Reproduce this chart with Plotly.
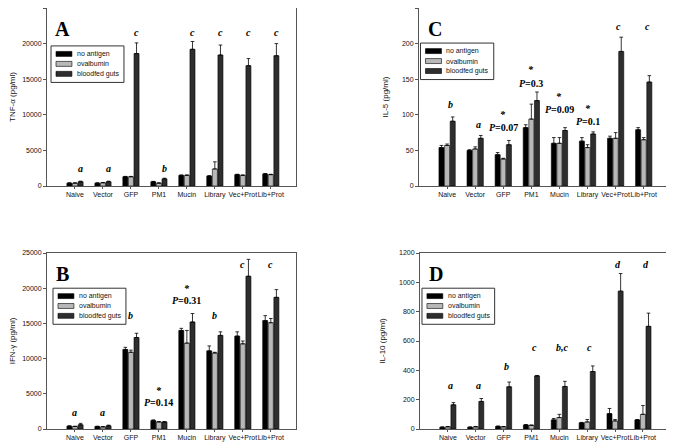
import plotly.graph_objects as go

# groups on the x axis
groups = ["Naive", "Vector", "GFP", "PM1", "Mucin", "Library", "Vec+Prot", "Lib+Prot"]
series = ["no antigen", "ovalbumin", "bloodfed guts"]

# panel A: TNF-alpha (pg/ml)
tnf_none = [400, 400, 1300, 600, 1500, 1400, 1600, 1700]
tnf_none_err = [50, 50, 50, 50, 50, 50, 50, 50]
tnf_ova = [400, 450, 1300, 400, 1500, 2400, 1500, 1600]
tnf_ova_err = [50, 50, 50, 50, 50, 1000, 50, 50]
tnf_blood = [600, 600, 18600, 1000, 19200, 18400, 16900, 18300]
tnf_blood_err = [80, 80, 1500, 100, 1100, 1400, 1000, 1700]
tnf_labels = ["a", "a", "c", "b", "c", "c", "c", "c"]
tnf_label_y = [2400, 2400, 21500, 2400, 21500, 21500, 21500, 21500]

# panel C: IL-5 (pg/ml)
il5_none = [54, 50, 44, 82, 60, 63, 67, 79]
il5_none_err = [3, 1, 3, 4, 8, 5, 3, 3]
il5_ova = [57, 52, 38, 94, 60, 54, 67, 65]
il5_ova_err = [2, 3, 1, 21, 8, 4, 8, 3]
il5_blood = [91, 67, 58, 120, 78, 73, 189, 146]
il5_blood_err = [6, 4, 6, 12, 4, 3, 20, 9]
il5_labels = ["b", "a", "*", "*", "*", "*", "c", "c"]
il5_label_y = [115, 87, 100, 163, 126, 109, 224, 224]
il5_p = ["", "", "=0.07", "=0.3", "=0.09", "=0.1", "", ""]
il5_p_y = [0, 0, 82, 144, 108, 90, 0, 0]

# panel B: IFN-gamma (pg/ml)
ifn_none = [400, 350, 11300, 1200, 14000, 11100, 13200, 15400]
ifn_none_err = [50, 50, 300, 100, 300, 700, 600, 700]
ifn_ova = [350, 300, 10900, 1000, 12200, 10800, 12100, 15100]
ifn_ova_err = [50, 50, 300, 50, 1800, 100, 400, 600]
ifn_blood = [600, 450, 13000, 1000, 15200, 13300, 21700, 18700]
ifn_blood_err = [200, 100, 600, 50, 1200, 500, 2400, 1100]
ifn_labels = ["a", "a", "b", "*", "*", "b", "c", "c"]
ifn_label_y = [2400, 2400, 16100, 5400, 20000, 16100, 23300, 23300]
ifn_p = ["", "", "", "=0.14", "=0.31", "", "", ""]
ifn_p_y = [0, 0, 0, 3700, 18200, 0, 0, 0]

# panel D: IL-10 (pg/ml)
il10_none = [12, 12, 18, 28, 62, 42, 105, 62]
il10_none_err = [2, 2, 2, 2, 10, 3, 35, 2]
il10_ova = [15, 15, 15, 25, 78, 48, 55, 100]
il10_ova_err = [2, 2, 2, 2, 22, 17, 10, 60]
il10_blood = [165, 188, 288, 362, 290, 392, 940, 700]
il10_blood_err = [15, 20, 32, 3, 35, 38, 120, 90]
il10_labels = ["a", "a", "b", "c", "b,c", "c", "d", "d"]
il10_label_y = [295, 295, 427, 557, 557, 557, 1125, 1125]

colors = ["#000000", "#b8b8b8", "#2e2e2e"]
sans = "Liberation Sans, Arial"
serif = "Liberation Serif, Times New Roman"
tick_font = dict(family=sans, size=7, color="#111")

fig = go.Figure()


# one panel of grouped bars with its own axes and a small boxed key
def add_panel(n, values, errors, ytitle, yrange, dtick, xdom, ydom, tag, labels, label_y,
              pvals=None, pvals_y=None, key_pos=(0.02, 0.79), lab_off=0.15):
    xa = "x" if n == 1 else "x%d" % n
    ya = "y" if n == 1 else "y%d" % n
    for name, vals, errs, col in zip(series, values, errors, colors):
        fig.add_trace(go.Bar(
            x=groups, y=vals, name=name, xaxis=xa, yaxis=ya, showlegend=False,
            marker=dict(color=col, line=dict(color="#000", width=0.6)),
            error_y=dict(type="data", array=errs, arrayminus=[0] * len(errs), symmetric=False,
                         color="#000", thickness=0.8, width=1.8),
        ))
    ax = dict(domain=xdom, anchor=ya, range=[-1, 7.9], showline=True, linecolor="#555",
              linewidth=1, mirror=True, ticks="outside", ticklen=2, tickcolor="#555",
              tickfont=tick_font, tickangle=0, showgrid=False, automargin=False)
    ay = dict(domain=ydom, anchor=xa, range=yrange, dtick=dtick, tickformat="d",
              showline=True, linecolor="#555", linewidth=1, mirror=True, ticks="outside",
              ticklen=3, tickcolor="#555", tickfont=tick_font, showgrid=False,
              zeroline=False, automargin=False,
              title=dict(text=ytitle, font=dict(family=sans, size=8, color="#111"),
                         standoff=12))
    k = "" if n == 1 else str(n)
    fig.layout["xaxis" + k] = ax
    fig.layout["yaxis" + k] = ay

    # boxed key in the upper left of the panel
    xd, yd = xa + " domain", ya + " domain"
    kx, ky = key_pos
    fig.add_shape(type="rect", xref=xd, yref=yd, x0=kx, x1=kx + 0.293, y0=ky - 0.205, y1=ky,
                  line=dict(color="#333", width=1), fillcolor="white")
    for j, (name, col) in enumerate(zip(series, colors)):
        ry = ky - 0.045 - j * 0.056
        fig.add_shape(type="rect", xref=xd, yref=yd, x0=kx + 0.02, x1=kx + 0.084,
                      y0=ry - 0.014, y1=ry + 0.014, fillcolor=col,
                      line=dict(color="#000", width=0.6))
        fig.add_annotation(x=kx + 0.096, y=ry, xref=xd, yref=yd, text=name, showarrow=False,
                           xanchor="left", yanchor="middle",
                           font=dict(family=sans, size=7, color="#111"))

    fig.add_annotation(x=0.064, y=0.88, xref=xd, yref=yd, text="<b>%s</b>" % tag,
                       showarrow=False, xanchor="center", yanchor="middle",
                       font=dict(family=serif, size=20, color="#000"))
    for i, (lab, ly) in enumerate(zip(labels, label_y)):
        off = 0 if lab == "*" else lab_off
        fig.add_annotation(x=i + off, y=ly, xref=xa, yref=ya, text="<b><i>%s</i></b>" % lab,
                           showarrow=False, font=dict(family=serif, size=10, color="#000"))
    if pvals:
        for i, (p, py) in enumerate(zip(pvals, pvals_y)):
            if p:
                fig.add_annotation(x=i, y=py, xref=xa, yref=ya,
                                   text="<b><i>P</i>%s</b>" % p, showarrow=False,
                                   font=dict(family=serif, size=10, color="#000"))


add_panel(1, [tnf_none, tnf_ova, tnf_blood], [tnf_none_err, tnf_ova_err, tnf_blood_err],
          "TNF-α (pg/ml)", [0, 25000], 5000, [0.0586, 0.4324], [0.5945, 1.0], "A",
          tnf_labels, tnf_label_y, key_pos=(0.016, 0.787), lab_off=0.2)
add_panel(2, [il5_none, il5_ova, il5_blood], [il5_none_err, il5_ova_err, il5_blood_err],
          "IL-5 (pg/ml)", [0, 250], 50, [0.6171, 0.9925], [0.5945, 1.0], "C",
          il5_labels, il5_label_y, il5_p, il5_p_y, key_pos=(0.006, 0.803), lab_off=0.12)
add_panel(3, [ifn_none, ifn_ova, ifn_blood], [ifn_none_err, ifn_ova_err, ifn_blood_err],
          "IFN-γ (pg/ml)", [0, 25000], 5000, [0.0586, 0.4324], [0.041, 0.4419], "B",
          ifn_labels, ifn_label_y, ifn_p, ifn_p_y, key_pos=(0.024, 0.80), lab_off=0.0)
add_panel(4, [il10_none, il10_ova, il10_blood], [il10_none_err, il10_ova_err, il10_blood_err],
          "IL-10 (pg/ml)", [0, 1200], 200, [0.6186, 0.991], [0.041, 0.4419], "D",
          il10_labels, il10_label_y, key_pos=(0.008, 0.80), lab_off=0.1)

# the page adds an 8px body margin, so the figure is drawn 8px smaller
fig.update_layout(width=666, height=439, margin=dict(l=0, r=0, t=0, b=0),
                  barmode="group", bargap=0.4, bargroupgap=0.1,
                  plot_bgcolor="white", paper_bgcolor="white")
fig.write_html("out.html")
